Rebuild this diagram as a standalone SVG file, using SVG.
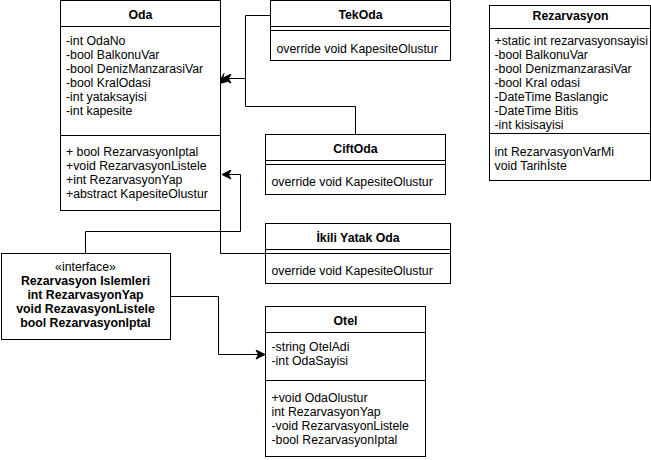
<svg xmlns="http://www.w3.org/2000/svg" width="651" height="460" viewBox="0 0 651 460">
<style>
.box{fill:#fff;stroke:#000;stroke-width:1}
.ln{stroke:#000;stroke-width:1;fill:none}
.c{stroke:#000;stroke-width:1;fill:none}
text{font-family:"Liberation Sans",Arial,sans-serif;font-size:12.3px;fill:#000}
.t{font-weight:bold;text-anchor:middle}
.m{text-anchor:middle}
</style>
<defs>
<marker id="arr" markerWidth="12" markerHeight="10" refX="10" refY="5" orient="auto" markerUnits="userSpaceOnUse">
<path d="M10,5 L1,0.5 L3.5,5 L1,9.5 Z" fill="#000" stroke="#000" stroke-width="1"/>
</marker>
</defs>
<rect width="651" height="460" fill="#fff"/>
<g id="connectors">
<path class="c" d="M270.5,15.5 H245.5 V78.5 H222" marker-end="url(#arr)"/>
<path class="c" d="M355.5,134.5 V106.5 H245.5 V78.5 H222"/>
<path class="c" d="M265.5,253.5 H220.5 V210.5"/>
<path d="M218,84 L224,73.5 L222.5,78.5 L227,81.5 Z" fill="#000" stroke="#000" stroke-width="1"/>
<path class="c" d="M85.5,253.5 V231.5 H240.5 V174.5 H222" marker-end="url(#arr)"/>
<path class="c" d="M170.5,296.5 H218.5 V354.5 H265" marker-end="url(#arr)"/>
</g>
<g id="Oda">
<rect class="box" x="60.5" y="0.5" width="160" height="210"/>
<line class="ln" x1="60.5" y1="26.5" x2="220.5" y2="26.5"/>
<line class="ln" x1="60.5" y1="135.5" x2="220.5" y2="135.5"/>
<text class="t" x="140.5" y="19">Oda</text>
<text x="66" y="44.5">-int OdaNo</text>
<text x="66" y="58.5">-bool BalkonuVar</text>
<text x="66" y="72.5">-bool DenizManzarasiVar</text>
<text x="66" y="86.5">-bool KralOdasi</text>
<text x="66" y="100.5">-int yataksayisi</text>
<text x="66" y="114.5">-int kapesite</text>
<text x="66" y="156">+ bool RezarvasyonIptal</text>
<text x="66" y="170">+void RezarvasyonListele</text>
<text x="66" y="184">+int RezarvasyonYap</text>
<text x="66" y="198">+abstract KapesiteOlustur</text>
</g>
<g id="TekOda">
<rect class="box" x="270.5" y="0.5" width="180" height="60"/>
<line class="ln" x1="270.5" y1="26.5" x2="450.5" y2="26.5"/>
<line class="ln" x1="270.5" y1="30.5" x2="450.5" y2="30.5"/>
<text class="t" x="360.5" y="19">TekOda</text>
<text x="276.5" y="52.5">override void KapesiteOlustur</text>
</g>
<g id="CiftOda">
<rect class="box" x="265.5" y="134.5" width="180" height="60"/>
<line class="ln" x1="265.5" y1="160.5" x2="445.5" y2="160.5"/>
<line class="ln" x1="265.5" y1="164.5" x2="445.5" y2="164.5"/>
<text class="t" x="355.5" y="153">CiftOda</text>
<text x="271.5" y="186">override void KapesiteOlustur</text>
</g>
<g id="IkiliYatakOda">
<rect class="box" x="265.5" y="223.5" width="185" height="60"/>
<line class="ln" x1="265.5" y1="249.5" x2="450.5" y2="249.5"/>
<line class="ln" x1="265.5" y1="253.5" x2="450.5" y2="253.5"/>
<text class="t" x="358" y="242">İkili Yatak Oda</text>
<text x="271.5" y="274.5">override void KapesiteOlustur</text>
</g>
<g id="Otel">
<rect class="box" x="265.5" y="306.5" width="160" height="150"/>
<line class="ln" x1="265.5" y1="332.5" x2="425.5" y2="332.5"/>
<line class="ln" x1="265.5" y1="380.5" x2="425.5" y2="380.5"/>
<text class="t" x="345.5" y="325">Otel</text>
<text x="271.5" y="350.5">-string OtelAdi</text>
<text x="271.5" y="364.5">-int OdaSayisi</text>
<text x="271.5" y="402">+void OdaOlustur</text>
<text x="271.5" y="416">int RezarvasyonYap</text>
<text x="271.5" y="430">-void RezarvasyonListele</text>
<text x="271.5" y="444">-bool RezarvasyonIptal</text>
</g>
<g id="Rezarvasyon">
<rect class="box" x="489.5" y="5.5" width="161" height="175"/>
<line class="ln" x1="489.5" y1="28.5" x2="650.5" y2="28.5"/>
<line class="ln" x1="489.5" y1="133.5" x2="650.5" y2="133.5"/>
<text class="t" x="570.5" y="19.5">Rezarvasyon</text>
<text x="494.5" y="45">+static int rezarvasyonsayisi</text>
<text x="494.5" y="59">-bool BalkonuVar</text>
<text x="494.5" y="73">-bool DenizmanzarasiVar</text>
<text x="494.5" y="87">-bool Kral odasi</text>
<text x="494.5" y="101">-DateTime Baslangic</text>
<text x="494.5" y="115">-DateTime Bitis</text>
<text x="494.5" y="129">-int kisisayisi</text>
<text x="494.5" y="156">int RezarvasyonVarMi</text>
<text x="494.5" y="170">void Tarihİste</text>
</g>
<g id="RezarvasyonIslemleri">
<rect class="box" x="1.5" y="253.5" width="169" height="86"/>
<text class="m" x="85.5" y="271">«interface»</text>
<text class="t" x="85.5" y="285">Rezarvasyon Islemleri</text>
<text class="t" x="85.5" y="299">int RezarvasyonYap</text>
<text class="t" x="85.5" y="313">void RezavasyonListele</text>
<text class="t" x="85.5" y="327">bool RezarvasyonIptal</text>
</g>
</svg>
